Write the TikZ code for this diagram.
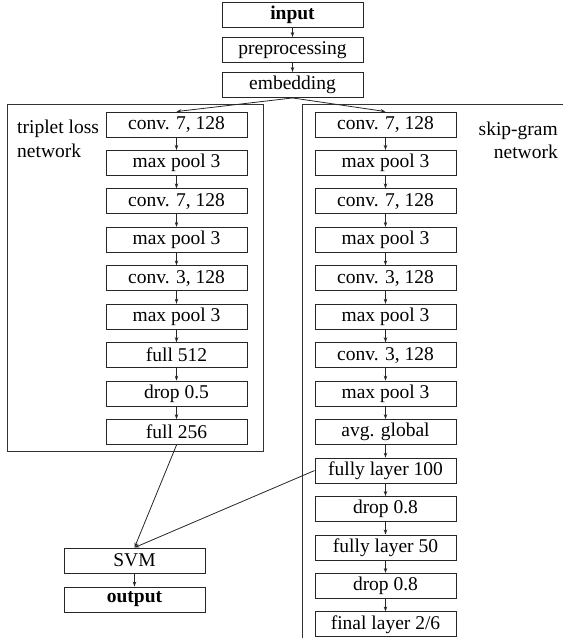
\documentclass[tikz,border=0pt]{standalone}
\usepackage{fontspec}
\setmainfont{Liberation Serif}
\usetikzlibrary{arrows.meta}
\begin{document}
\begin{tikzpicture}[x=1pt,y=-1pt,
  layer/.style={draw=black!85, line width=0.9pt, minimum width=141pt, minimum height=25pt, inner sep=0pt, font=\fontsize{19.5}{23}\selectfont},
  conn/.style={draw=black!85, line width=0.8pt, -{Stealth[length=5pt,width=3.5pt]}},
  frame/.style={draw=black!80, line width=0.9pt},
  lbl/.style={font=\fontsize{19.5}{24}\selectfont, inner sep=0pt}]
\useasboundingbox (0,0) rectangle (563,638);
% containers
\draw[frame] (7,104) rectangle (263,451);
\draw[frame] (563,104) -- (302,104) -- (302,640);
% labels
\node[lbl, anchor=base west] (tl1) at (17,133) {triplet loss};
\node[lbl, anchor=base west] (tl2) at (17,157) {network};
\node[lbl, anchor=base east] (sg1) at (558,135) {skip-gram};
\node[lbl, anchor=base east] (sg2) at (558,158) {network};
% top
\node[layer] (in) at (292.5,15) {\textbf{input}};
\node[layer] (pre) at (292.5,50) {preprocessing};
\node[layer] (emb) at (292.5,85) {embedding};
% left column
\def\ys{38.45}
\node[layer] (l1) at (176.5,124.5) {conv. 7, 128};
\node[layer] (l2) at (176.5,124.5+\ys) {max pool 3};
\node[layer] (l3) at (176.5,124.5+2*\ys) {conv. 7, 128};
\node[layer] (l4) at (176.5,124.5+3*\ys) {max pool 3};
\node[layer] (l5) at (176.5,124.5+4*\ys) {conv. 3, 128};
\node[layer] (l6) at (176.5,124.5+5*\ys) {max pool 3};
\node[layer] (l7) at (176.5,124.5+6*\ys) {full 512};
\node[layer] (l8) at (176.5,124.5+7*\ys) {drop 0.5};
\node[layer] (l9) at (176.5,124.5+8*\ys) {full 256};
% right column
\node[layer] (r1) at (385.5,124.5) {conv. 7, 128};
\node[layer] (r2) at (385.5,124.5+\ys) {max pool 3};
\node[layer] (r3) at (385.5,124.5+2*\ys) {conv. 7, 128};
\node[layer] (r4) at (385.5,124.5+3*\ys) {max pool 3};
\node[layer] (r5) at (385.5,124.5+4*\ys) {conv. 3, 128};
\node[layer] (r6) at (385.5,124.5+5*\ys) {max pool 3};
\node[layer] (r7) at (385.5,124.5+6*\ys) {conv. 3, 128};
\node[layer] (r8) at (385.5,124.5+7*\ys) {max pool 3};
\node[layer] (r9) at (385.5,124.5+8*\ys) {avg. global};
\node[layer] (r10) at (385.5,124.5+9*\ys) {fully layer 100};
\node[layer] (r11) at (385.5,124.5+10*\ys) {drop 0.8};
\node[layer] (r12) at (385.5,124.5+11*\ys) {fully layer 50};
\node[layer] (r13) at (385.5,124.5+12*\ys) {drop 0.8};
\node[layer] (r14) at (385.5,124.5+13*\ys) {final layer 2/6};
% bottom left
\node[layer] (svm) at (134.5,560.5) {SVM};
\node[layer] (out) at (134.5,599.5) {\textbf{output}};
% connectors
\draw[conn] (in) -- (pre);
\draw[conn] (pre) -- (emb);
\draw[conn] (emb.south) -- (l1.north);
\draw[conn] (emb.south) -- (r1.north);
\foreach \a/\b in {l1/l2,l2/l3,l3/l4,l4/l5,l5/l6,l6/l7,l7/l8,l8/l9,
  r1/r2,r2/r3,r3/r4,r4/r5,r5/r6,r6/r7,r7/r8,r8/r9,r9/r10,r10/r11,r11/r12,r12/r13,r13/r14}
  \draw[conn] (\a) -- (\b);
\draw[conn] (l9.south) -- (svm.north);
\draw[conn] (r10.west) -- (svm.north);
\draw[conn] (svm) -- (out);
\end{tikzpicture}
\end{document}
